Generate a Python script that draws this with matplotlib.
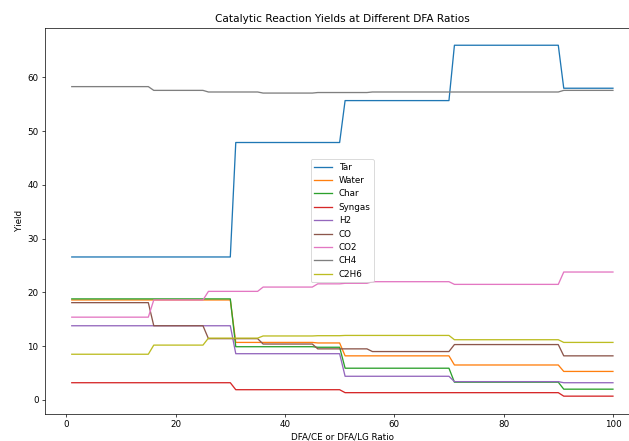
import numpy as np
import matplotlib
matplotlib.use("Agg")
import matplotlib.pyplot as plt

# Ratio runs from 1 to 100; yields hold constant between these segment ends
segment_ends = [15, 25, 30, 35, 45, 50, 55, 70, 90, 100]

tar = [26.6, 26.6, 26.6, 47.9, 47.9, 47.9, 55.7, 55.7, 66.0, 58.0]
water = [18.6, 18.6, 18.6, 10.7, 10.7, 10.6, 8.2, 8.2, 6.5, 5.3]
char = [18.8, 18.8, 18.8, 9.9, 9.9, 9.8, 5.9, 5.9, 3.3, 2.0]
syngas = [3.2, 3.2, 3.2, 1.9, 1.9, 1.9, 1.35, 1.35, 1.35, 0.7]
h2 = [13.8, 13.8, 13.8, 8.6, 8.6, 8.6, 4.4, 4.4, 3.4, 3.2]
co = [18.1, 13.8, 11.4, 11.4, 10.4, 9.5, 9.5, 9.0, 10.3, 8.2]
co2 = [15.4, 18.6, 20.2, 20.2, 21.0, 21.6, 21.7, 22.0, 21.5, 23.8]
ch4 = [58.3, 57.6, 57.3, 57.3, 57.1, 57.2, 57.2, 57.3, 57.3, 57.6]
c2h6 = [8.5, 10.2, 11.5, 11.5, 11.9, 11.95, 12.0, 12.0, 11.2, 10.7]

names = ["Tar", "Water", "Char", "Syngas", "H2", "CO", "CO2", "CH4", "C2H6"]
series = [tar, water, char, syngas, h2, co, co2, ch4, c2h6]

ratio = np.arange(1, segment_ends[-1] + 1)
lengths = np.diff([0] + segment_ends)

dpi = 62.9
fig = plt.figure(figsize=(629 / dpi, 441 / dpi), dpi=dpi)
# right edge of the axes runs a little past the canvas
ax = fig.add_axes([0.0711, 0.0619, 0.9464, 0.8753])

for name, vals in zip(names, series):
    ax.plot(ratio, np.repeat(vals, lengths), label=name)

ax.set_title("Catalytic Reaction Yields at Different DFA Ratios")
ax.set_xlabel("DFA/CE or DFA/LG Ratio")
ax.set_ylabel("Yield")
ax.legend(loc="center")

fig.savefig("out.png", dpi=dpi)
